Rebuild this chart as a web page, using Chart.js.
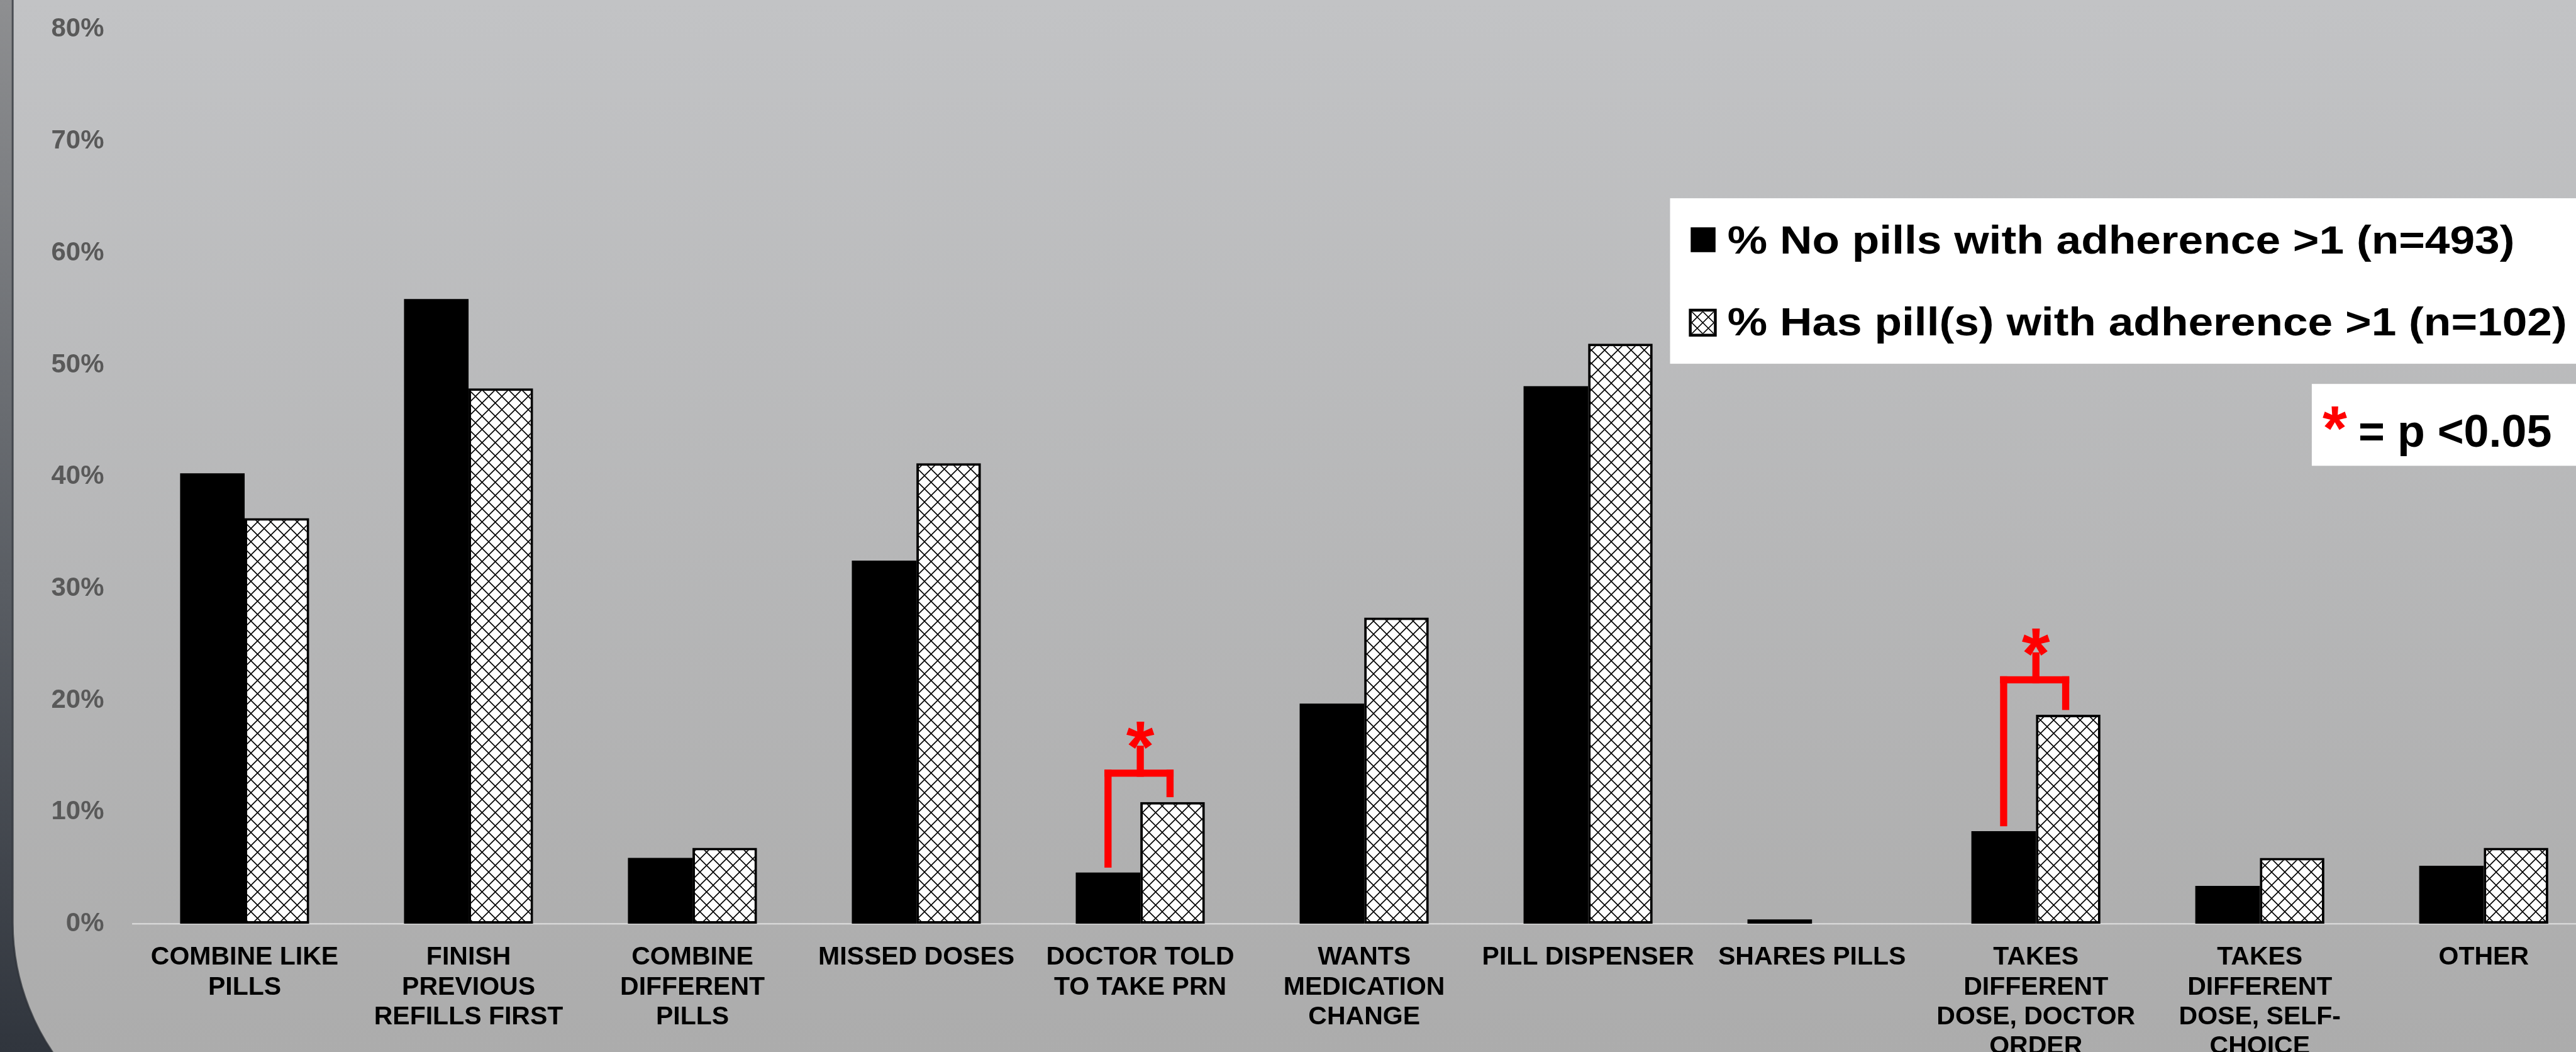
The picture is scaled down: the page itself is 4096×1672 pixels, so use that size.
<!DOCTYPE html>
<html>
<head>
<meta charset="utf-8">
<script src="https://cdn.jsdelivr.net/npm/chart.js@4.4.1/dist/chart.umd.min.js"></script>
<style>
  html, body { margin: 0; padding: 0; overflow: hidden; background: #3a3f47; }
  #wrap { width: 4096px; height: 1672px; overflow: hidden; position: relative; }
  canvas { display: block; }
</style>
</head>
<body>
<div id="wrap"><canvas id="chart" width="4128" height="1672"></canvas></div>
<script>
// ---- data ----
const categories = [
  ['COMBINE LIKE', 'PILLS'],
  ['FINISH', 'PREVIOUS', 'REFILLS FIRST'],
  ['COMBINE', 'DIFFERENT', 'PILLS'],
  'MISSED DOSES',
  ['DOCTOR TOLD', 'TO TAKE PRN'],
  ['WANTS', 'MEDICATION', 'CHANGE'],
  'PILL DISPENSER',
  'SHARES PILLS',
  ['TAKES', 'DIFFERENT', 'DOSE, DOCTOR', 'ORDER'],
  ['TAKES', 'DIFFERENT', 'DOSE, SELF-', 'CHOICE'],
  'OTHER'
];
const noPillsPct  = [40.3, 55.9, 5.9, 32.5, 4.6, 19.7, 48.1, 0.4, 8.3, 3.4, 5.2];
const hasPillsPct = [36.3, 47.9, 6.8, 41.2, 10.9, 27.4, 51.9, 0.0, 18.7, 5.9, 6.8];
const seriesNames = [
  '% No pills with adherence >1 (n=493)',
  '% Has pill(s) with adherence >1 (n=102)'
];
const yTickValues = [0, 10, 20, 30, 40, 50, 60, 70, 80];
const significantCategories = [4, 8];
const significanceNote = '= p <0.05';

// ---- drawing helpers ----
const FONT = "'Liberation Sans', Arial, sans-serif";
const canvas = document.getElementById('chart');
const ctx = canvas.getContext('2d');

function makeLattice(size, lineWidth) {
  const tile = document.createElement('canvas');
  tile.width = size; tile.height = size;
  const g = tile.getContext('2d');
  g.fillStyle = '#ffffff';
  g.fillRect(0, 0, size, size);
  g.strokeStyle = '#000000';
  g.lineWidth = lineWidth;
  g.beginPath();
  for (let k = -1; k <= 1; k++) {
    g.moveTo(k * size, 0); g.lineTo(k * size + size, size);
    g.moveTo(k * size + size, 0); g.lineTo(k * size, size);
  }
  g.stroke();
  return ctx.createPattern(tile, 'repeat');
}
const lattice = makeLattice(21, 1.6);

// panel background with the rounded lower-left corner
const panelBackground = {
  id: 'panelBackground',
  beforeDraw(chart) {
    const { ctx, width, height } = chart;
    ctx.save();
    const outer = ctx.createLinearGradient(0, 0, 0, height);
    outer.addColorStop(0, '#8e8f91');
    outer.addColorStop(0.55, '#5a5e64');
    outer.addColorStop(1, '#30353d');
    ctx.fillStyle = outer;
    ctx.fillRect(0, 0, width, height);

    const left = 20.2, r = 366, cy = 1466.5;
    ctx.beginPath();
    ctx.moveTo(left, -10);
    ctx.lineTo(left, cy);
    ctx.arc(left + r, cy, r, Math.PI, Math.PI / 2, true);
    ctx.lineTo(width + 10, cy + r);
    ctx.lineTo(width + 10, -10);
    ctx.closePath();
    const panel = ctx.createLinearGradient(0, 0, 0, height);
    panel.addColorStop(0, '#c2c3c5');
    panel.addColorStop(1, '#acacac');
    ctx.fillStyle = panel;
    ctx.fill();

    ctx.beginPath();
    ctx.moveTo(left, -10);
    ctx.lineTo(left, cy);
    ctx.arc(left + r, cy, r, Math.PI, Math.PI / 2, true);
    ctx.strokeStyle = 'rgba(45,49,56,0.75)';
    ctx.lineWidth = 3;
    ctx.stroke();
    ctx.restore();
  }
};

// red significance brackets between the two bars of a category
const sigBrackets = {
  id: 'sigBrackets',
  afterDatasetsDraw(chart, args, opts) {
    const { ctx, scales: { y } } = chart;
    const m0 = chart.getDatasetMeta(0), m1 = chart.getDatasetMeta(1);
    const lw = opts.lineWidth;
    ctx.save();
    ctx.fillStyle = opts.color;
    opts.pairs.forEach(p => {
      const a = m0.data[p.index], b = m1.data[p.index];
      const top = y.getPixelForValue(p.level);
      const xl = a.x, xr = b.x - 4, xm = (a.x + b.x) / 2;
      ctx.fillRect(xl - lw / 2, top, xr - xl + lw, lw);
      ctx.fillRect(xl - lw / 2, top, lw, a.y - opts.gap - top);
      ctx.fillRect(xr - lw / 2, top, lw, b.y - opts.gap - top);
      ctx.fillRect(xm - lw / 2, top - opts.stem, lw, opts.stem + lw);
      ctx.font = `bold ${opts.starSize}px ${FONT}`;
      ctx.textAlign = 'center';
      ctx.textBaseline = 'alphabetic';
      ctx.fillText('*', xm, top - opts.stem - 7 + 0.42 * opts.starSize);
    });
    ctx.restore();
  }
};

// legend box and significance key
const keyBoxes = {
  id: 'keyBoxes',
  afterDraw(chart, args, opts) {
    const { ctx, width } = chart;
    const ds = chart.data.datasets;
    ctx.save();
    ctx.fillStyle = '#ffffff';
    ctx.fillRect(2655.5, 315.1, width - 2655.5, 263);
    ctx.fillRect(3675.9, 610.2, width - 3675.9, 130.1);

    // first series marker
    ctx.fillStyle = ds[0].backgroundColor;
    ctx.fillRect(2688.3, 361.3, 39.5, 39.5);
    // second series marker: outlined lattice square
    const mx = 2685.4, my = 490.7, ms = 44.3, bw = 4.5;
    ctx.fillStyle = '#000';
    ctx.fillRect(mx, my, ms, ms);
    ctx.fillStyle = '#fff';
    ctx.fillRect(mx + bw, my + bw, ms - 2 * bw, ms - 2 * bw);
    ctx.save();
    ctx.beginPath();
    ctx.rect(mx + bw, my + bw, ms - 2 * bw, ms - 2 * bw);
    ctx.clip();
    ctx.strokeStyle = '#000';
    ctx.lineWidth = 1.6;
    const step = (ms - 2 * bw) / 2;
    ctx.beginPath();
    for (let k = -2; k <= 2; k++) {
      const x0 = mx + bw + k * step;
      ctx.moveTo(x0, my + bw); ctx.lineTo(x0 + ms, my + bw + ms);
      ctx.moveTo(x0 + step * 2, my + bw); ctx.lineTo(x0 + step * 2 - ms, my + bw + ms);
    }
    ctx.stroke();
    ctx.restore();

    ctx.fillStyle = '#000';
    ctx.font = `bold 62.8px ${FONT}`;
    ctx.textAlign = 'left';
    ctx.textBaseline = 'alphabetic';
    [[403.1, ds[0].label], [533.1, ds[1].label]].forEach(([base, text]) => {
      ctx.save();
      ctx.translate(2746.8, base);
      ctx.scale(1.135, 1);
      ctx.fillText(text, 0, 0);
      ctx.restore();
    });

    ctx.fillStyle = '#ff0000';
    ctx.font = `bold 100px ${FONT}`;
    ctx.textAlign = 'center';
    ctx.fillText('*', 3712.5, 715);
    ctx.fillStyle = '#000';
    ctx.font = `bold 71.8px ${FONT}`;
    ctx.textAlign = 'left';
    ctx.fillText(significanceNote, 3750, 709.8);
    ctx.restore();
  }
};

new Chart(ctx, {
  type: 'bar',
  data: {
    labels: categories,
    datasets: [
      {
        label: seriesNames[0],
        data: noPillsPct,
        backgroundColor: '#000000',
        borderWidth: 0,
        categoryPercentage: 0.5765,
        barPercentage: 1
      },
      {
        label: seriesNames[1],
        data: hasPillsPct,
        backgroundColor: lattice,
        borderColor: '#000000',
        borderWidth: 4,
        borderSkipped: false,
        categoryPercentage: 0.5765,
        barPercentage: 1
      }
    ]
  },
  options: {
    responsive: false,
    animation: false,
    devicePixelRatio: 1,
    layout: { padding: { left: 0, top: 46.9, right: 0.7, bottom: 0 } },
    plugins: {
      legend: { display: false },
      tooltip: { enabled: false },
      sigBrackets: {
        pairs: [
          { index: significantCategories[0], level: 13.8 },
          { index: significantCategories[1], level: 22.15 }
        ],
        color: '#ff0000',
        lineWidth: 11.3,
        gap: 7.7,
        stem: 38,
        starSize: 115
      }
    },
    scales: {
      x: {
        grid: { display: false, drawTicks: false },
        border: { display: true, color: '#d6d6d6', width: 2.5 },
        ticks: {
          color: '#000000',
          font: { family: FONT, weight: 'bold', size: 41, lineHeight: 47.3 / 41 },
          padding: 30,
          maxRotation: 0,
          minRotation: 0,
          autoSkip: false
        },
        afterFit: (s) => { s.height = 1672 - 1468.4; }
      },
      y: {
        min: yTickValues[0],
        max: yTickValues[yTickValues.length - 1],
        // invisible tick marks keep the labels clear of the plot edge
        grid: { display: true, drawOnChartArea: false, drawTicks: true, tickLength: 45.6, color: 'rgba(0,0,0,0)' },
        border: { display: false },
        afterBuildTicks: (s) => { s.ticks = yTickValues.map(v => ({ value: v })); },
        ticks: {
          color: '#595959',
          font: { family: FONT, weight: 'bold', size: 41.9 },
          padding: 0,
          callback: (v) => v + '%'
        },
        afterFit: (s) => { s.width = 211; }
      }
    }
  },
  plugins: [panelBackground, sigBrackets, keyBoxes]
});
</script>
</body>
</html>
